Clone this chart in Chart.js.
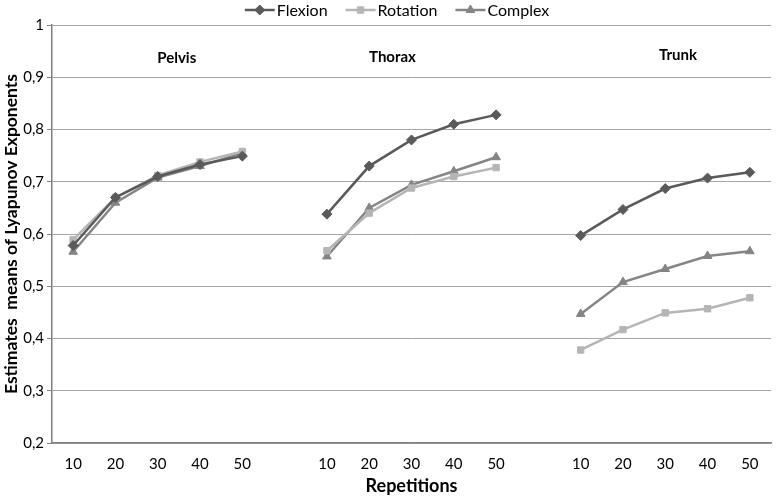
<!DOCTYPE html>
<html>
<head>
<meta charset="utf-8">
<script src="https://cdn.jsdelivr.net/npm/chart.js@4/dist/chart.umd.min.js"></script>
<style>
  html, body { margin: 0; padding: 0; background: #fff; }
  #wrap { width: 777px; height: 497px; }
</style>
</head>
<body>
<div id="wrap"><canvas id="c" width="777" height="497"></canvas></div>
<script>
// Repetitions per segment
const repetitions = ['10', '20', '30', '40', '50'];
const segments = ['Pelvis', 'Thorax', 'Trunk'];

// Lyapunov exponent means, per segment
const flexionPelvis  = [0.578, 0.670, 0.710, 0.733, 0.749];
const flexionThorax  = [0.638, 0.730, 0.780, 0.810, 0.828];
const flexionTrunk   = [0.597, 0.647, 0.687, 0.707, 0.718];

const rotationPelvis = [0.589, 0.670, 0.712, 0.738, 0.758];
const rotationThorax = [0.568, 0.640, 0.688, 0.710, 0.727];
const rotationTrunk  = [0.378, 0.417, 0.449, 0.457, 0.478];

const complexPelvis  = [0.566, 0.660, 0.708, 0.730, 0.755];
const complexThorax  = [0.557, 0.650, 0.694, 0.720, 0.747];
const complexTrunk   = [0.447, 0.508, 0.533, 0.558, 0.567];

const yTicks = [0.2, 0.3, 0.4, 0.5, 0.6, 0.7, 0.8, 0.9, 1];

// one blank category between segments
const join = (a, b, c) => [...a, null, ...b, null, ...c];
const labels = [...repetitions, '', ...repetitions, '', ...repetitions];

const FONT = 'Lato, "Open Sans", sans-serif';

const series = [
  { name: 'Flexion',  data: join(flexionPelvis, flexionThorax, flexionTrunk),
    color: '#5a5a5a', style: 'rectRot', r: 5 },
  { name: 'Rotation', data: join(rotationPelvis, rotationThorax, rotationTrunk),
    color: '#b5b5b5', style: 'rect', r: 4.5 },
  { name: 'Complex',  data: join(complexPelvis, complexThorax, complexTrunk),
    color: '#858585', style: 'triangle', r: 5 },
];

// segment names, placed at a fractional category index
const segmentPos = [
  { x: 2.45, y: 58 },
  { x: 7.55, y: 57 },
  { x: 14.3, y: 55 },
];

const extras = {
  id: 'extras',
  afterDraw(chart) {
    const ctx = chart.ctx;
    const xs = chart.scales.x;
    const step = xs.getPixelForValue(1) - xs.getPixelForValue(0);
    ctx.save();
    ctx.fillStyle = '#000';
    ctx.font = 'bold 15px ' + FONT;
    ctx.textAlign = 'center';
    ctx.textBaseline = 'middle';
    segments.forEach((s, i) => {
      const px = xs.getPixelForValue(0) + segmentPos[i].x * step;
      ctx.fillText(s, px, segmentPos[i].y);
    });

    // legend: line with marker, then label
    ctx.font = '16px ' + FONT;
    ctx.textAlign = 'left';
    const lineW = 30, gap = 18, txtGap = 2;
    const widths = series.map(s => lineW + txtGap + ctx.measureText(s.name).width);
    const total = widths.reduce((a, b) => a + b, 0) + gap * (series.length - 1);
    let x = 397 - total / 2;
    const y = 10;
    series.forEach((s, i) => {
      ctx.strokeStyle = s.color;
      ctx.lineWidth = 2.5;
      ctx.beginPath();
      ctx.moveTo(x, y);
      ctx.lineTo(x + lineW, y);
      ctx.stroke();
      ctx.fillStyle = s.color;
      ctx.lineWidth = 1;
      Chart.helpers.drawPoint(ctx, { pointStyle: s.style, radius: s.r, rotation: 0, borderWidth: 1 }, x + lineW / 2, y);
      ctx.fillStyle = '#000';
      ctx.fillText(s.name, x + lineW + txtGap, y + 1);
      x += widths[i] + gap;
    });
    ctx.restore();
  }
};

new Chart(document.getElementById('c'), {
  type: 'line',
  data: {
    labels,
    datasets: series.map(s => ({
      label: s.name,
      data: s.data,
      borderColor: s.color,
      backgroundColor: s.color,
      borderWidth: 2.5,
      pointStyle: s.style,
      pointRadius: s.r,
      pointBorderWidth: 1,
      pointBackgroundColor: s.color,
      pointBorderColor: s.color,
      spanGaps: false,
      tension: 0,
    })),
  },
  options: {
    responsive: false,
    animation: false,
    devicePixelRatio: 1,
    layout: { padding: { top: 25, right: 1, left: 0, bottom: 0 } },
    plugins: {
      legend: { display: false },
      tooltip: { enabled: false },
    },
    scales: {
      x: {
        offset: true,
        grid: { display: false, drawTicks: false },
        border: { color: '#7f7f7f', width: 1.5 },
        ticks: { font: { family: FONT, size: 15 }, color: '#000', padding: 12, maxRotation: 0, autoSkip: false },
        title: { display: true, text: 'Repetitions', font: { family: FONT, size: 18, weight: 'bold' }, color: '#000', padding: { top: 2, bottom: 0 } },
        afterFit: (scale) => { scale.height = 54; },
      },
      y: {
        min: 0.2,
        max: 1,
        afterBuildTicks: (scale) => { scale.ticks = yTicks.map(v => ({ value: v })); },
        grid: { color: '#a6a6a6', lineWidth: 1, tickLength: 5, tickColor: '#7f7f7f' },
        border: { color: '#7f7f7f', width: 1.5 },
        ticks: {
          font: { family: FONT, size: 15 }, color: '#000', padding: 3,
          callback: (v) => String(Math.round(v * 10) / 10).replace('.', ','),
        },
        title: { display: true, text: 'Estimates  means of Lyapunov Exponents', font: { family: FONT, size: 17.5, weight: 'bold' }, color: '#000', padding: { top: 1, bottom: 0 } },
        afterFit: (scale) => { scale.width = 52; },
      },
    },
  },
  plugins: [extras],
});
</script>
</body>
</html>
